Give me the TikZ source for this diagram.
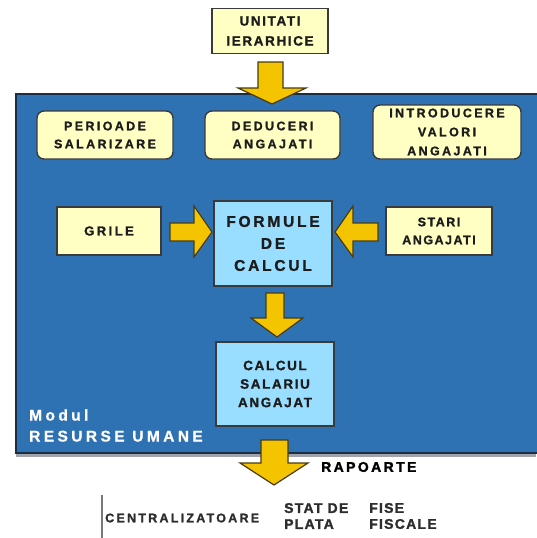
\documentclass[tikz,border=0pt]{standalone}
\usepackage{fontspec}
\setmainfont{Liberation Sans}
\newfontfamily\lsA[LetterSpace=12,FakeBold=1.2]{Liberation Sans}
\newfontfamily\lsB[LetterSpace=19,FakeBold=1.2]{Liberation Sans}
\newfontfamily\lsC[LetterSpace=18,FakeBold=1.2]{Liberation Sans}
\newfontfamily\lsM[LetterSpace=22,FakeBold=1.0]{Liberation Sans}
\newfontfamily\lsR[LetterSpace=17,FakeBold=1.8]{Liberation Sans}
\newfontfamily\lsE[LetterSpace=18,FakeBold=1.5]{Liberation Sans}
\newfontfamily\lsF[LetterSpace=9,FakeBold=1.5]{Liberation Sans}
\definecolor{bgblue}{HTML}{2F72B4}
\definecolor{boxy}{HTML}{FFFFC4}
\definecolor{boxb}{HTML}{99DDFF}
\definecolor{arry}{HTML}{F5C400}
\definecolor{arrd}{HTML}{4A3C10}
\definecolor{edge}{HTML}{3A3A3A}
\definecolor{txt}{HTML}{1C1C1C}
\definecolor{shadowgrey}{HTML}{A0A4AA}
\definecolor{navy}{HTML}{1B2D45}
\definecolor{linegrey}{HTML}{787878}
\definecolor{dgrey}{HTML}{2D2D2D}
\tikzset{
  ybox/.style={draw=edge, line width=1.4pt, fill=boxy, align=center, text=txt, inner sep=0pt},
  rbox/.style={ybox, rounded corners=7pt},
  bbox/.style={draw=edge, line width=1.5pt, fill=boxb, align=center, text=txt, inner sep=0pt},
  barrow/.style={fill=arry, draw=arrd, line width=1.2pt, line join=miter},
  lbl/.style={inner sep=0pt, align=left}
}
\begin{document}
\begin{tikzpicture}[x=1pt,y=-1pt]
\useasboundingbox (0,0) rectangle (536,538);
% module background
\fill[shadowgrey] (16,452) rectangle (536,457);
\filldraw[fill=bgblue, draw=navy, line width=1.5pt] (16,94) rectangle (538,453);
% top box
\node[ybox, minimum width=116pt, minimum height=45pt, font=\lsA\bfseries\fontsize{13.5}{20}\selectfont] (unit) at (270,31) {UNITATI\\IERARHICE};
% top arrow
\filldraw[barrow] (258,62) -- (283,62) -- (283,88) -- (306,88) -- (272,104) -- (238,88) -- (258,88) -- cycle;
% row 1
\node[rbox, minimum width=136pt, minimum height=48pt, font=\lsB\bfseries\fontsize{12.5}{18}\selectfont] (perioade) at (105,135) {PERIOADE\\SALARIZARE};
\node[rbox, minimum width=135pt, minimum height=48pt, font=\lsB\bfseries\fontsize{12.5}{18}\selectfont] (deduceri) at (272.5,135) {DEDUCERI\\ANGAJATI};
\node[rbox, minimum width=148pt, minimum height=54pt, font=\lsB\bfseries\fontsize{12.5}{19}\selectfont] (introd) at (447,132) {INTRODUCERE\\VALORI\\ANGAJATI};
% row 2
\node[ybox, minimum width=104pt, minimum height=48pt, font=\lsB\bfseries\fontsize{13}{18}\selectfont] (grile) at (109,231) {GRILE};
\node[bbox, minimum width=118pt, minimum height=85pt, font=\lsC\bfseries\fontsize{15.5}{22}\selectfont] (formule) at (273,243.5) {FORMULE\\DE\\CALCUL};
\node[ybox, minimum width=106pt, minimum height=48pt, font=\lsA\bfseries\fontsize{12.5}{18}\selectfont] (stari) at (439,231) {STARI\\ANGAJATI};
% side arrows
\filldraw[barrow] (170,223) -- (194,223) -- (194,206) -- (212,232) -- (194,257) -- (194,241) -- (170,241) -- cycle;
\filldraw[barrow] (378,223) -- (353,223) -- (353,206) -- (335,232) -- (353,257) -- (353,241) -- (378,241) -- cycle;
% middle arrow
\filldraw[barrow] (266,293) -- (284,293) -- (284,318) -- (303,318) -- (277,337) -- (251,318) -- (266,318) -- cycle;
% calcul box
\node[bbox, minimum width=118pt, minimum height=84pt, font=\lsA\bfseries\fontsize{13.5}{18.5}\selectfont] (calcul) at (275,384) {CALCUL\\SALARIU\\ANGAJAT};
% module label
\node[lbl, anchor=west, text=white, font=\lsM\bfseries\fontsize{15.5}{21}\selectfont] (modul) at (29,425.5) {Modul\\RESURSE UMANE};
% bottom arrow
\filldraw[barrow] (261,440) -- (288,440) -- (288,463) -- (308,463) -- (274,485) -- (240,463) -- (261,463) -- cycle;
\node[lbl, anchor=west, text=black, font=\lsR\bfseries\fontsize{14}{16}\selectfont] (rapoarte) at (321,467) {RAPOARTE};
% reports
\coordinate (lt) at (102,495);
\coordinate (lb) at (102,538);
\draw[line width=2pt, draw=linegrey] (lt) -- (lb);
\node[lbl, anchor=west, text=dgrey, font=\lsE\bfseries\fontsize{12.5}{16}\selectfont] (central) at (105,518) {CENTRALIZATOARE};
\node[lbl, anchor=west, text=dgrey, font=\lsF\bfseries\fontsize{14}{16}\selectfont] (stat) at (284,516) {STAT DE\\PLATA};
\node[lbl, anchor=west, text=dgrey, font=\lsF\bfseries\fontsize{14}{16}\selectfont] (fise) at (369,516) {FISE\\FISCALE};
\end{tikzpicture}
\end{document}
